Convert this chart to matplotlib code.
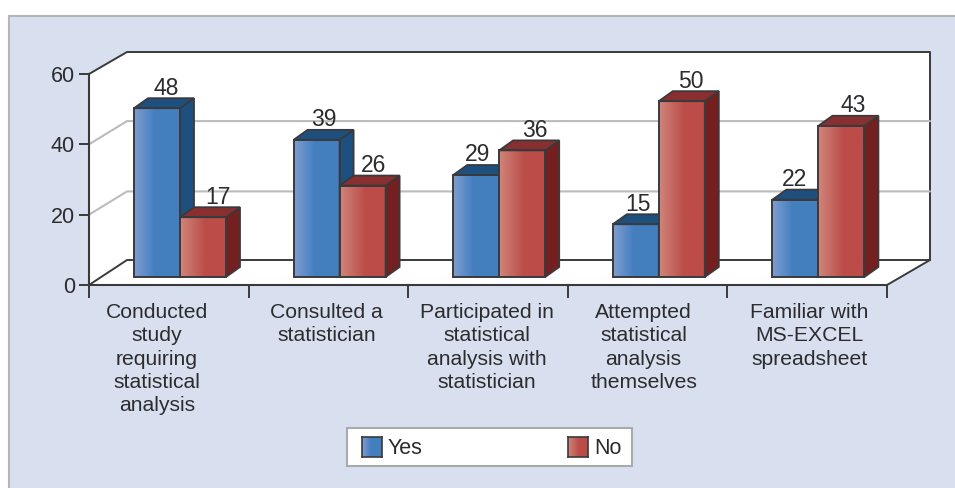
import matplotlib
matplotlib.use("Agg")
import matplotlib.pyplot as plt
from matplotlib.colors import LinearSegmentedColormap
from matplotlib.patches import Polygon, Rectangle
from matplotlib.transforms import ScaledTranslation
import numpy as np

categories = ["Conducted\nstudy\nrequiring\nstatistical\nanalysis",
              "Consulted a\nstatistician",
              "Participated in\nstatistical\nanalysis with\nstatistician",
              "Attempted\nstatistical\nanalysis\nthemselves",
              "Familiar with\nMS-EXCEL\nspreadsheet"]
yes_values = [48, 39, 29, 15, 22]
no_values = [17, 26, 36, 50, 43]
y_ticks = [0, 20, 40, 60]

plt.rcParams['font.family'] = ['Liberation Sans', 'DejaVu Sans']
W, H = 955, 488
BG = '#d8e0f0'
DARK = '#3a3a3c'
TEXT = '#2c2c2e'

# hand placed offsets in pixels, the original labels are not centred
cat_shift = [-12, -2, -1, -4, 2]
yes_shift = [9, 7, 1, 2, -1]
no_shift = [15, 11, 13, 9, 12]

fig = plt.figure(figsize=(W / 100, H / 100), dpi=100, facecolor='white')

# light blue panel with its grey edge
fig.add_artist(Rectangle((8.5 / W, -0.01), 1.02 - 8.5 / W, 1.01 - 15.5 / H, transform=fig.transFigure,
                         facecolor=BG, edgecolor='#b4b6b8', linewidth=1.5, zorder=-2))

# axes box = the front plane of the 3d chart
ax = fig.add_axes([89 / W, 1 - 285 / H, (887 - 89) / W, (285 - 74) / H])
ax.patch.set_alpha(0)

px_x = 5 / (887 - 89)
px_y = 60 / (285 - 74)
DXL, DXR, DY = 38 * px_x, 43 * px_x, 25 * px_y   # wall depth
TOP = 60 + DY - 3 * px_y
X0, X1 = -0.5, 4.5


def poly(pts, **kw):
    ax.add_patch(Polygon(pts, closed=True, clip_on=False, **kw))


def line(xs, ys, color=DARK, lw=1.4):
    ax.plot(xs, ys, color=color, lw=lw, clip_on=False, zorder=2, solid_capstyle='round')


# white walls and floor, only some of the edges are drawn
poly([(X0, 0), (X1, 0), (X1 + DXR, DY), (X1 + DXR, TOP), (X0 + DXL, TOP), (X0, 60)],
     facecolor='white', edgecolor='none', zorder=1)
line([X0, X0 + DXL, X1 + DXR, X1 + DXR, X1], [60, TOP, TOP, DY, 0])
line([X0, X0 + DXL, X1 + DXR], [0, DY, DY])

# gridlines
for v in y_ticks[1:-1]:
    line([X0, X0 + DXL, X1 + DXR], [v, v + DY - 0.5, v + DY - 0.5], color='#bcbcbc', lw=1.5)

blue_cmap = LinearSegmentedColormap.from_list('b', [(0, '#7f9dd0'), (0.45, '#447fc0'), (1, '#437ebf')])
red_cmap = LinearSegmentedColormap.from_list('r', [(0, '#d0857a'), (0.55, '#bb4d49'), (1, '#bb4c48')])
grad = np.linspace(0, 1, 64).reshape(1, -1)

bar_w = 46 * px_x
ox, oy = 45 * px_x, 8 * px_y      # bar front plane relative to axes front
sx, sy = 14 * px_x, 10 * px_y     # bar depth


def bar3d(left, val, cmap, top_c, side_c, z):
    l = left + ox
    r = l + bar_w
    b, t = oy, val + oy
    ax.imshow(grad, cmap=cmap, extent=(l, r, b, t), aspect='auto', zorder=z, clip_on=False)
    poly([(r, b), (r + sx, b + sy), (r + sx, t + sy), (r, t)],
         facecolor=side_c, edgecolor=DARK, linewidth=1.3, zorder=z)
    poly([(l, t), (r, t), (r + sx, t + sy), (l + sx, t + sy)],
         facecolor=top_c, edgecolor=DARK, linewidth=1.3, zorder=z)
    ax.add_patch(Rectangle((l, b), bar_w, val, fill=False, edgecolor=DARK,
                           linewidth=1.4, zorder=z + 0.1, clip_on=False))
    return (l + r) / 2, t + sy


for i in range(len(categories)):
    left = i - 0.5
    cx, top = bar3d(left, yes_values[i], blue_cmap, '#1d4f7f', '#1d4f7f', 5)
    ax.text(cx + yes_shift[i] * px_x, top - 0.4, str(yes_values[i]), ha='center', va='bottom',
            fontsize=16.5, color=TEXT, zorder=8, clip_on=False)
    cx, top = bar3d(left + bar_w, no_values[i], red_cmap, '#8a2f30', '#741f20', 6)
    ax.text(cx + no_shift[i] * px_x, top - 0.4, str(no_values[i]), ha='center', va='bottom',
            fontsize=16.5, color=TEXT, zorder=8, clip_on=False)

ax.set_xlim(X0, X1)
ax.set_ylim(0, 60)

for s in ['top', 'right']:
    ax.spines[s].set_visible(False)
for s in ['left', 'bottom']:
    ax.spines[s].set_color(DARK)
    ax.spines[s].set_linewidth(1.5)
    ax.spines[s].set_zorder(3)

ax.set_yticks(y_ticks)
ax.set_xticks(np.arange(-0.5, 5))
ax.set_xticklabels([])
ax.set_xticks(np.arange(5), categories, minor=True, linespacing=1.29, va='top')
ax.tick_params(axis='x', which='major', length=9, width=1.4, color=DARK)
ax.tick_params(axis='x', which='minor', length=0, pad=13, labelsize=15.2, labelcolor=TEXT)
ax.tick_params(axis='y', length=7, width=1.4, color=DARK, labelsize=15.5, labelcolor=TEXT, pad=3)
for lab, dx in zip(ax.get_xticklabels(minor=True), cat_shift):
    lab.set_transform(lab.get_transform() + ScaledTranslation(dx / 100, 0, fig.dpi_scale_trans))

# legend box
fig.add_artist(Rectangle((347 / W, 1 - 466 / H), (632 - 347) / W, (466 - 428) / H,
                         transform=fig.transFigure, facecolor='white',
                         edgecolor='#a8aaae', linewidth=1.5, zorder=-1))
for x0, cmap, label, tx in [(362, blue_cmap, 'Yes', 388), (568, red_cmap, 'No', 594)]:
    lax = fig.add_axes([x0 / W, 1 - 457 / H, 20 / W, 20 / H])
    lax.imshow(grad, cmap=cmap, aspect='auto')
    lax.set_xticks([])
    lax.set_yticks([])
    for s in lax.spines.values():
        s.set_color(DARK)
        s.set_linewidth(1.2)
    fig.text(tx / W, 1 - 448 / H, label, fontsize=15.5, color=TEXT, va='center')

fig.savefig('out.png', dpi=100, facecolor='white')
